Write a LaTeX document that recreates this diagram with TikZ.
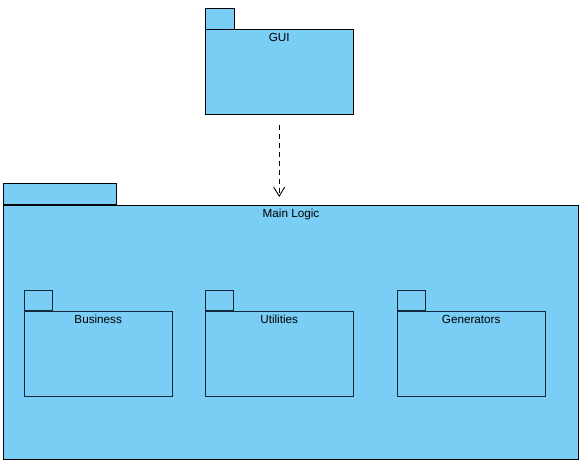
\documentclass[tikz,border=0pt]{standalone}
\usepackage{fontspec}
\setmainfont{Liberation Sans}
\usetikzlibrary{arrows.meta}
\definecolor{pkgfill}{RGB}{122,206,245}
\definecolor{pkgline}{RGB}{20,40,60}
\begin{document}
\begin{tikzpicture}[x=1pt,y=-1pt,
  pkgbody/.style={draw=black,fill=pkgfill,line width=0.9pt,anchor=north west,inner sep=0pt,
    minimum width=#1},
  pkgtab/.style={draw=black,fill=pkgfill,line width=0.9pt,anchor=south west,inner sep=0pt,minimum height=21pt},
  inner/.style={draw=pkgline},
  pkglbl/.style={font=\fontsize{11.7}{14}\selectfont,anchor=base,inner sep=0pt}
]
\useasboundingbox (0,0) rectangle (582,465);
% GUI
\node[pkgtab,minimum width=29pt] (guitab) at (204.5,29.5) {};
\node[pkgbody=148.5pt,minimum height=84.5pt] (gui) at (204.5,29.5) {};
\node[pkglbl] (guilbl) at ([yshift=-12pt]gui.north) {GUI};
% Main Logic
\node[pkgtab,minimum width=113pt] (maintab) at (3,205) {};
\node[pkgbody=575pt,minimum height=254pt] (main) at (3,205) {};
\node[pkglbl] (mainlbl) at ([yshift=-12.5pt]main.north) {Main Logic};
% inner packages
\foreach \nm/\lbl/\xx in {bus/Business/24,uti/Utilities/205,gen/Generators/397}{
  \node[pkgtab,inner,minimum width=28pt,minimum height=20pt] (\nm tab) at (\xx,311) {};
  \node[pkgbody=147.5pt,inner,minimum height=85pt] (\nm) at (\xx,311) {};
  \node[pkglbl] (\nm lbl) at ([yshift=-13pt]\nm.north) {\lbl};
}
% dependency
\draw[dashed,line width=0.9pt,dash pattern=on 5pt off 4pt,
  -{Straight Barb[length=9pt,width=11pt,line width=0.9pt]},
  shorten <=10pt,shorten >=8pt] (gui.south) -- (gui.south |- main.north);
\end{tikzpicture}
\end{document}
